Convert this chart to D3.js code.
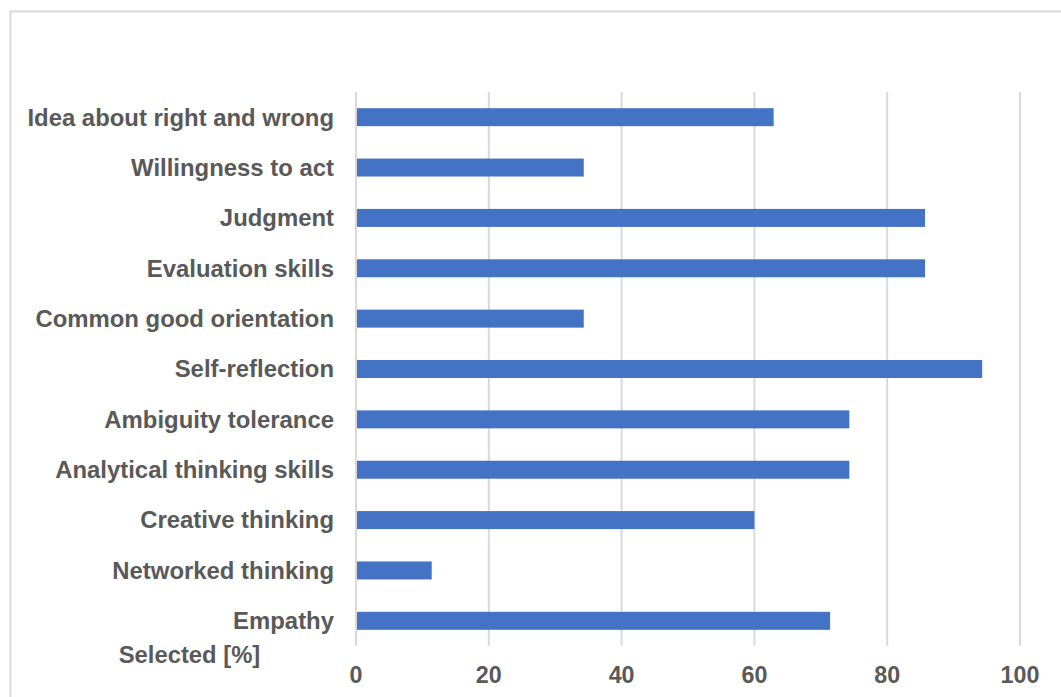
<!DOCTYPE html>
<html>
<head>
<meta charset="utf-8">
<script src="https://cdn.jsdelivr.net/npm/d3@7"></script>
<style>
  html, body { margin: 0; padding: 0; background: #ffffff; }
  svg { display: block; }
  text { font-family: "Liberation Sans", Arial, sans-serif; font-weight: bold; fill: #595959; }
</style>
</head>
<body>
<svg id="chart" width="1061" height="697"></svg>
<script>
// Competence categories, top to bottom
const categories = [
  "Idea about right and wrong",
  "Willingness to act",
  "Judgment",
  "Evaluation skills",
  "Common good orientation",
  "Self-reflection",
  "Ambiguity tolerance",
  "Analytical thinking skills",
  "Creative thinking",
  "Networked thinking",
  "Empathy"
];
// Share of respondents selecting each competence [%]
const selected = [62.9, 34.3, 85.7, 85.7, 34.3, 94.3, 74.3, 74.3, 60.0, 11.4, 71.4];
const xTicks = [0, 20, 40, 60, 80, 100];
const axisTitle = "Selected [%]";

const svg = d3.select("#chart");

// Outer frame
svg.append("rect")
  .attr("x", 10.5).attr("y", 11.5)
  .attr("width", 1100).attr("height", 800)
  .attr("fill", "none")
  .attr("stroke", "#d9d9d9")
  .attr("stroke-width", 2);

const plot = { left: 356, right: 1020, top: 92, bottom: 646 };

const x = d3.scaleLinear().domain([0, 100]).range([plot.left, plot.right]);
const y = d3.scaleBand()
  .domain(categories)
  .range([plot.top, plot.bottom])
  .paddingInner(0.643)
  .paddingOuter(0.3215);

// Vertical gridlines
svg.append("g")
  .selectAll("line")
  .data(xTicks)
  .join("line")
  .attr("x1", d => x(d)).attr("x2", d => x(d))
  .attr("y1", plot.top).attr("y2", plot.bottom)
  .attr("stroke", "#d9d9d9")
  .attr("stroke-width", 2);

// Bars
svg.append("g")
  .selectAll("rect")
  .data(categories)
  .join("rect")
  .attr("x", x(0) + 1)
  .attr("y", d => y(d))
  .attr("width", (d, i) => x(selected[i]) - x(0) - 1)
  .attr("height", y.bandwidth())
  .attr("fill", "#4472c4");

// Category labels
svg.append("g")
  .selectAll("text")
  .data(categories)
  .join("text")
  .attr("x", 334)
  .attr("y", d => y(d) + y.bandwidth() / 2)
  .attr("dy", "0.35em")
  .attr("text-anchor", "end")
  .attr("font-size", 23.9)
  .text(d => d);

// X axis tick labels
svg.append("g")
  .selectAll("text")
  .data(xTicks)
  .join("text")
  .attr("x", d => x(d))
  .attr("y", 683)
  .attr("text-anchor", "middle")
  .attr("font-size", 23.3)
  .text(d => d);

// Axis title
svg.append("text")
  .attr("x", 189.5)
  .attr("y", 663)
  .attr("text-anchor", "middle")
  .attr("font-size", 23.8)
  .text(axisTitle);
</script>
</body>
</html>
